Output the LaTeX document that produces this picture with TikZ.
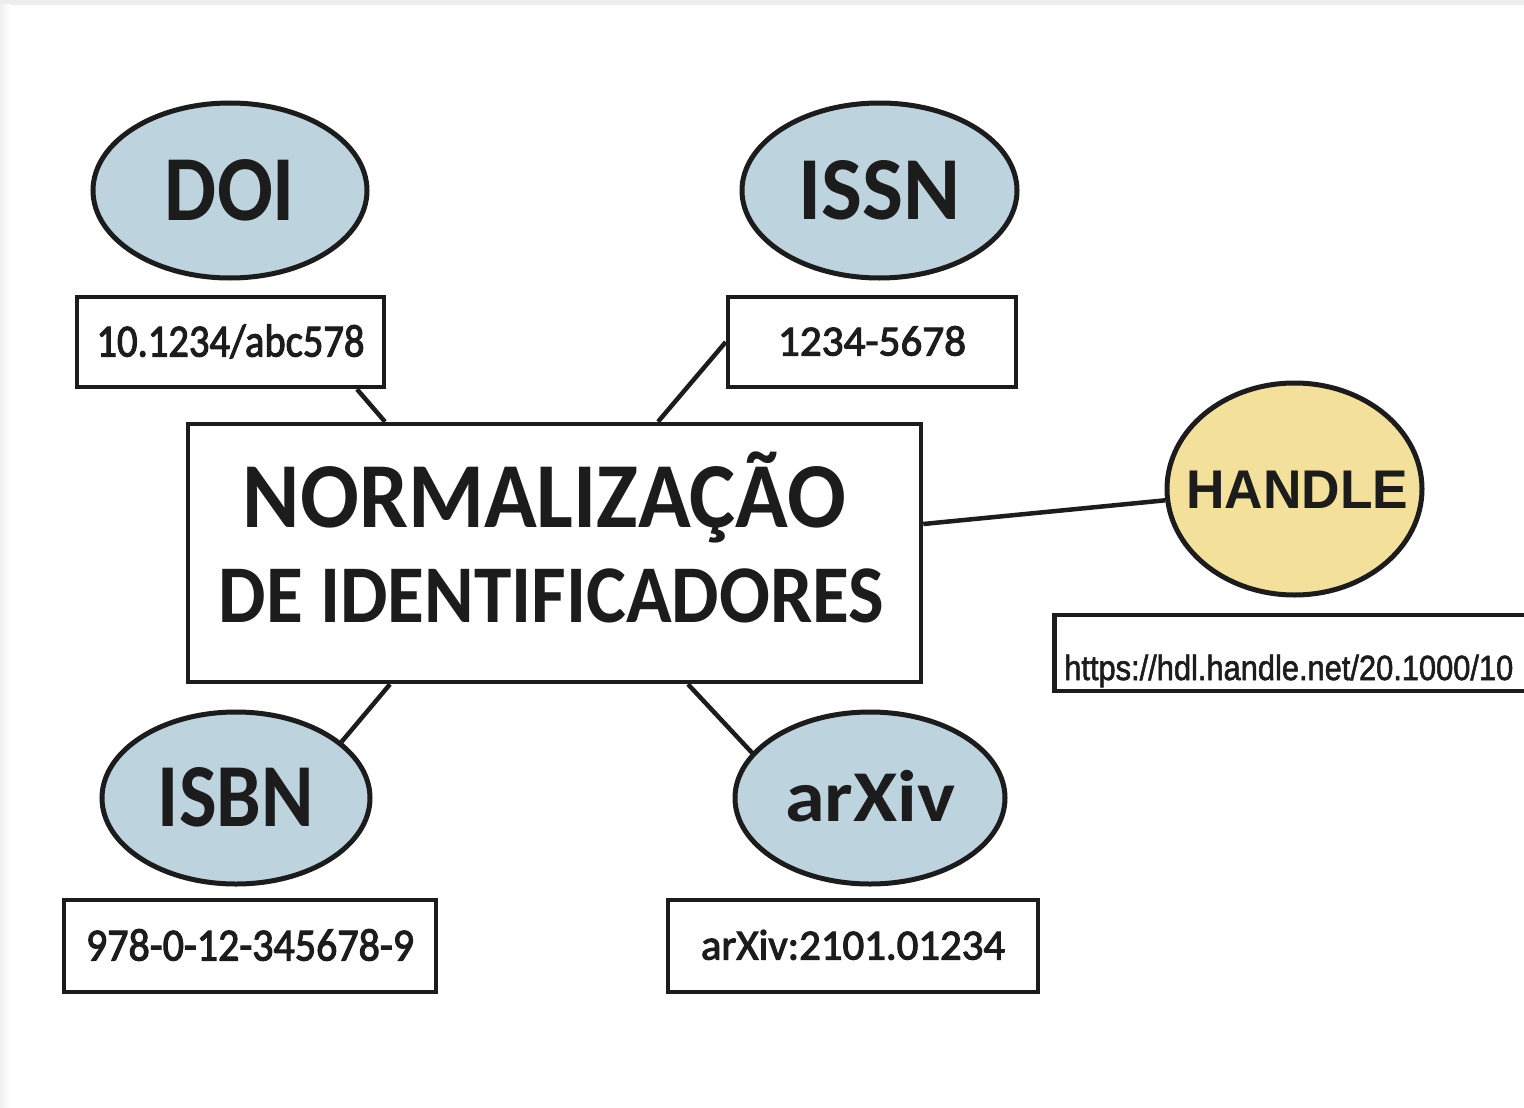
\documentclass[tikz,border=0pt]{standalone}
\usepackage{fontspec}
\setmainfont{Carlito}
\newfontfamily\carlmed[FakeBold=2.5]{Carlito}
\newfontfamily\arialf{Liberation Sans}
\newfontfamily\arialmed[FakeBold=1.8]{Liberation Sans}
\usetikzlibrary{shapes.geometric}
\newcommand\fitw[2]{\resizebox{#1}{\height}{#2}}
\newcommand\zerow[1]{\makebox[0pt]{#1}}
\definecolor{ovalblue}{RGB}{189,211,222}
\definecolor{ovalyellow}{RGB}{243,225,155}
\definecolor{ink}{RGB}{28,28,28}
\begin{document}
\begin{tikzpicture}[x=1pt,y=-1pt,
  oval/.style={ellipse, draw=ink, line width=5pt, fill=ovalblue, inner sep=0pt, text=ink},
  valbox/.style={rectangle, draw=ink, line width=4.5pt, fill=white, inner sep=0pt, text=ink},
  link/.style={draw=ink, line width=4.5pt},
]
\useasboundingbox (0,0) rectangle (1524,1108);
\fill[white] (0,0) rectangle (1524,1108);
\fill[gray!14] (0,0) rectangle (1524,5);
\shade[left color=gray!12, right color=white] (0,5) rectangle (10,1108);

% ellipses
\node[oval, minimum width=274pt, minimum height=175pt, text height=59pt, text depth=0pt] (doi) at (230,190.5)
  {\zerow{\fontsize{93}{93}\selectfont\bfseries\fitw{130pt}{DOI}}};
\node[oval, minimum width=275pt, minimum height=175pt, text height=57pt, text depth=0pt] (issn) at (879.5,190.5)
  {\zerow{\fontsize{90}{90}\selectfont\bfseries\fitw{162pt}{ISSN}}};
\node[oval, minimum width=268pt, minimum height=172pt, text height=57pt, text depth=0pt] (isbn) at (236,798)
  {\zerow{\fontsize{90}{90}\selectfont\bfseries\fitw{156pt}{ISBN}}};
\node[oval, minimum width=270pt, minimum height=172pt, text height=46pt, text depth=0pt] (arxiv) at (870,798)
  {\zerow{\fontsize{73}{73}\selectfont\bfseries\fitw{170pt}{arXiv}}};
\node[oval, fill=ovalyellow, minimum width=255pt, minimum height=212pt, text height=39pt, text depth=0pt] (handle) at (1294.5,489)
  {\zerow{\kern6pt\arialf\fontsize{54.5}{54.5}\selectfont\bfseries\fitw{222pt}{HANDLE}}};

% value boxes
\node[valbox, minimum width=307pt, minimum height=90pt, text height=29pt, text depth=0pt] (doibox) at (230.5,342)
  {\carlmed\fontsize{46}{46}\selectfont\fitw{268pt}{10.1234/abc578}};
\node[valbox, minimum width=288pt, minimum height=90pt, text height=27pt, text depth=0pt] (issnbox) at (872,342)
  {\carlmed\fontsize{43}{43}\selectfont\fitw{188pt}{1234-5678}};
\node[valbox, minimum width=372pt, minimum height=92pt, text height=29pt, text depth=0pt] (isbnbox) at (250,946)
  {\carlmed\fontsize{46}{46}\selectfont\fitw{328pt}{978-0-12-345678-9}};
\node[valbox, minimum width=370pt, minimum height=92pt, text height=27pt, text depth=0pt] (arxivbox) at (853,946)
  {\carlmed\fontsize{43}{43}\selectfont\fitw{304pt}{arXiv:2101.01234}};
\node[valbox, anchor=west, minimum width=500pt, minimum height=76pt, inner xsep=10pt, text width=480pt, align=left,
      text height=54pt, text depth=0pt] (hdlbox) at (1052,653)
  {\arialmed\fontsize{35}{35}\selectfont\fitw{449pt}{https://hdl.handle.net/20.1000/10}};

% central box
\node[valbox, minimum width=733pt, minimum height=258pt] (main) at (554.5,553) {};
\node[anchor=base, inner sep=0pt, text=ink] (title1) at (544.5,527)
  {\fontsize{93}{93}\selectfont\bfseries\fitw{603pt}{NORMALIZAÇÃO}};
\node[anchor=base, inner sep=0pt, text=ink] (title2) at (551.5,622)
  {\fontsize{82}{82}\selectfont\bfseries\fitw{665pt}{DE IDENTIFICADORES}};

% connectors
\draw[link] ([xshift=126.5pt]doibox.south) -- ([xshift=-169.5pt]main.north);
\draw[link] (issnbox.west) -- ([xshift=103.5pt]main.north);
\draw[link] ([yshift=29pt]main.east) -- (handle.185);
\draw[link] ([xshift=-164.5pt]main.south) -- (isbn.28);
\draw[link] ([xshift=133.5pt]main.south) -- (arxiv.159);
\end{tikzpicture}
\end{document}
